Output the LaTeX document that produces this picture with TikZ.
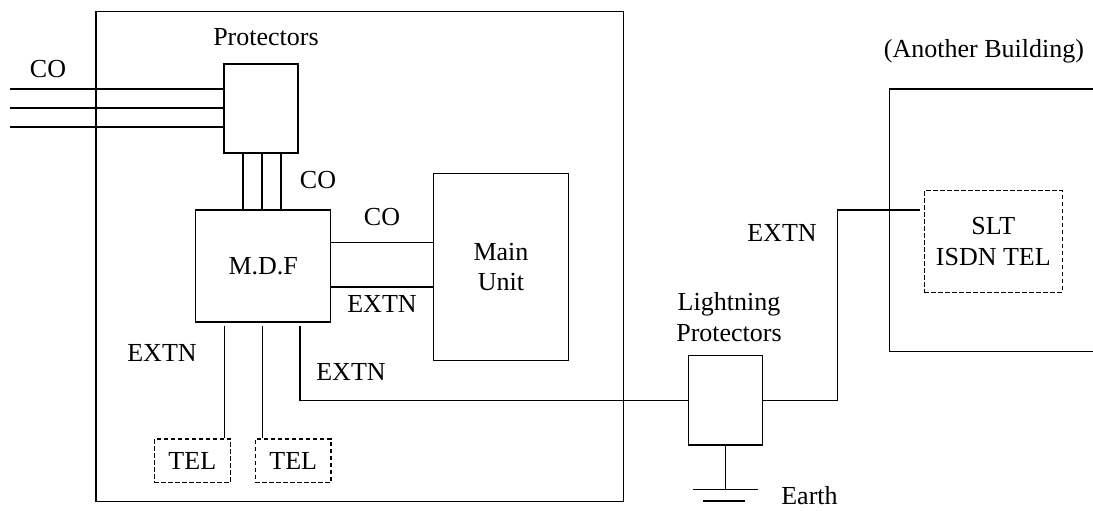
\documentclass[tikz,border=0pt]{standalone}
\usepackage{fontspec}
\setmainfont{Liberation Serif}
\usetikzlibrary{calc}
\newcommand\diagfont{\fontsize{26}{31}\selectfont}
\begin{document}
\begin{tikzpicture}[x=1pt,y=-1pt,
  every node/.style={font=\diagfont},
  wire/.style={draw,line width=1.4pt},
  box/.style={draw,line width=1.4pt,rectangle,inner sep=0pt},
  dbox/.style={box,dash pattern=on 4.5pt off 2.5pt},
  lbl/.style={inner sep=0pt,align=center}]
\useasboundingbox (0,0) rectangle (1093,511);
% buildings
\node[box,minimum width=527.3pt,minimum height=489.8pt] (bldg) at (359.7,256.6) {};
\draw[line width=1.4pt] (1093,89) -- (889.3,89) -- (889.3,351.7) -- (1093,351.7);
% boxes
\node[box,minimum width=74pt,minimum height=89pt] (prot) at (261,108.5) {};
\node[box,minimum width=135pt,minimum height=112.3pt] (mdf) at (263.2,266) {M.D.F};
\node[box,minimum width=135.4pt,minimum height=187.4pt,align=center] (main) at (501,267) {Main\\[-1pt]Unit};
\node[dbox,minimum width=76pt,minimum height=43.7pt] (tel1) at (192.3,460.9) {TEL};
\node[dbox,minimum width=75.7pt,minimum height=43.7pt] (tel2) at (293.2,460.9) {TEL};
\node[box,minimum width=74.4pt,minimum height=89.3pt] (lp) at (725.5,400.3) {};
\node[dbox,minimum width=138pt,minimum height=101.6pt,align=center] (slt) at (993.3,241.5) {SLT\\ISDN TEL};
% helper coordinates
\coordinate (co1) at (10,89);
\coordinate (co2) at (10,108);
\coordinate (co3) at (10,127);
\coordinate (px1) at (243,0);
\coordinate (px2) at (262,0);
\coordinate (px3) at (281,0);
\coordinate (my1) at (0,242.3);
\coordinate (my2) at (0,287);
\coordinate (mx1) at (224.3,0);
\coordinate (mx2) at (262.3,0);
\coordinate (mx3) at (300,0);
\coordinate (rx) at (837.3,0);
\coordinate (sy) at (0,210);
\coordinate (gy) at (0,489.3);
\coordinate (gy2) at (0,501);
% CO lines into protectors
\draw[wire] (co1) -- (co1 -| prot.west);
\draw[wire] (co2) -- (co2 -| prot.west);
\draw[wire] (co3) -- (co3 -| prot.west);
% protectors to MDF
\draw[wire] (prot.south -| px1) -- (mdf.north -| px1);
\draw[wire] (prot.south -| px2) -- (mdf.north -| px2);
\draw[wire] (prot.south -| px3) -- (mdf.north -| px3);
% MDF to main unit
\draw[wire] (mdf.east |- my1) -- (main.west |- my1);
\draw[wire] (mdf.east |- my2) -- (main.west |- my2);
% MDF to TELs
\draw[wire] ([yshift=-3pt]mdf.south -| mx1) -- (tel1.north -| mx1);
\draw[wire] ([yshift=-3pt]mdf.south -| mx2) -- (tel2.north -| mx2);
% MDF to lightning protectors to other building
\draw[wire] ([yshift=-3pt]mdf.south -| mx3) |- (lp.west);
\draw[wire] (lp.east) -| (rx |- sy) -- ([xshift=-4pt]slt.west |- sy);
% earth
\coordinate (gnd) at (lp.south |- gy);
\coordinate (gnd2) at (lp.south |- gy2);
\draw[wire] (lp.south) -- (gnd);
\draw[wire] ([xshift=-33pt]gnd) -- ([xshift=32.5pt]gnd);
\draw[wire] ([xshift=-23pt]gnd2) -- ([xshift=19pt]gnd2);
% labels
\node[lbl] (lco) at (48,69) {CO};
\node[lbl] (lprot) at (266,37) {Protectors};
\node[lbl] (lco2) at (318,180) {CO};
\node[lbl] (lco3) at (382,217) {CO};
\node[lbl] (lex1) at (382,304) {EXTN};
\node[lbl] (lex2) at (162,353) {EXTN};
\node[lbl] (lex3) at (351,372) {EXTN};
\node[lbl] (lex4) at (782,233) {EXTN};
\node[lbl] (llp) at (729,317) {Lightning\\Protectors};
\node[lbl] (learth) at (809.5,496) {Earth};
\node[lbl] (lother) at (984,51) {(Another Building)};
\end{tikzpicture}
\end{document}
